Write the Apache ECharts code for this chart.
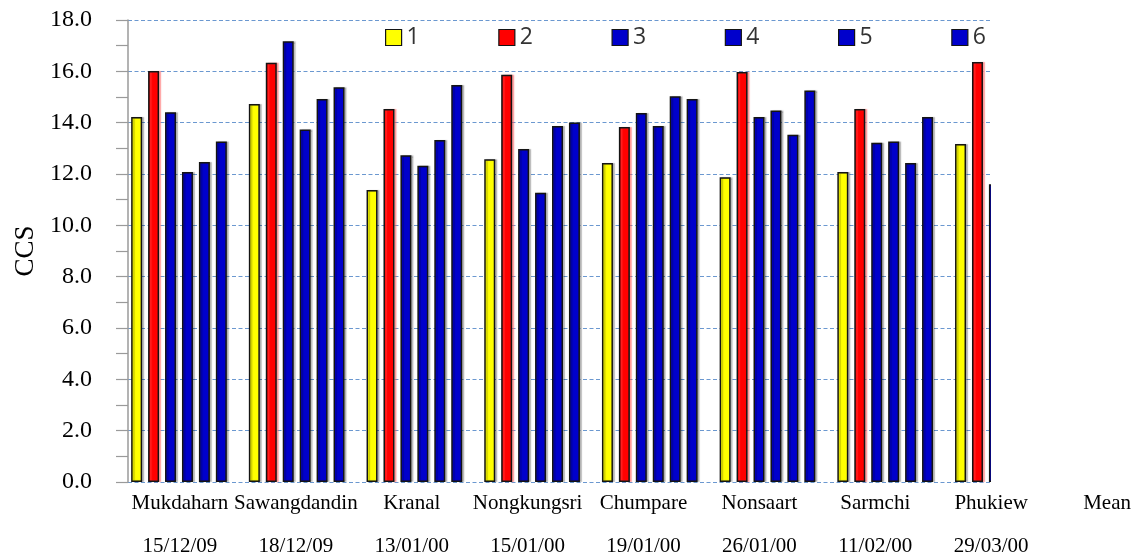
<!DOCTYPE html>
<html>
<head>
<meta charset="utf-8">
<script src="https://cdn.jsdelivr.net/npm/echarts@6/dist/echarts.min.js"></script>
<style>
  html, body { margin: 0; padding: 0; background: #ffffff; }
  #chart { width: 1135px; height: 560px; }
</style>
</head>
<body>
<div id="chart"></div>
<script>
// Sites and sampling dates along the x axis
const sites = ['Mukdaharn', 'Sawangdandin', 'Kranal', 'Nongkungsri', 'Chumpare', 'Nonsaart', 'Sarmchi', 'Phukiew', 'Mean'];
const dates = ['15/12/09', '18/12/09', '13/01/00', '15/01/00', '19/01/00', '26/01/00', '11/02/00', '29/03/00', ''];

// CCS per site for samples 1..6
const ccs1 = [14.22, 14.73, 11.38, 12.57, 12.43, 11.87, 12.08, 13.17];
const ccs2 = [16.01, 16.33, 14.53, 15.87, 13.83, 15.97, 14.53, 16.36];
const ccs3 = [14.41, 17.17, 12.73, 12.97, 14.38, 14.22, 13.22, 11.60];
const ccs4 = [12.08, 13.73, 12.32, 11.27, 13.87, 14.47, 13.27, null];
const ccs5 = [12.47, 14.92, 13.32, 13.87, 15.03, 13.53, 12.43, null];
const ccs6 = [13.27, 15.38, 15.47, 14.01, 14.92, 15.25, 14.22, null];

const seriesNames = ['1', '2', '3', '4', '5', '6'];
const seriesValues = [ccs1, ccs2, ccs3, ccs4, ccs5, ccs6];
const seriesColors = ['#FFFF00', '#FF0000', '#0000CC', '#0000CC', '#0000CC', '#0000CC'];

const yTicks = { min: 0, max: 18, interval: 2 };

const chart = echarts.init(document.getElementById('chart'), null, { renderer: 'canvas' });

const serif = 'Liberation Serif, Times New Roman, serif';

// plot area box (px)
const plot = { left: 128, top: 20, width: 863, height: 462 };

const series = seriesNames.map((name, k) => ({
  name: name,
  type: 'bar',
  xAxisIndex: 0,
  yAxisIndex: 0,
  barWidth: 11,
  barGap: '54%',
  data: seriesValues[k].map((v, i) => [i, v]),
  itemStyle: {
    color: seriesColors[k],
    borderColor: '#141414',
    borderWidth: 1.5,
    shadowColor: k === 1 ? 'rgba(255,80,80,0.45)' : 'rgba(0,0,0,0.22)',
    shadowOffsetX: 2,
    shadowBlur: 1
  },
  emphasis: { disabled: true },
  animation: false
}));

chart.setOption({
  animation: false,
  backgroundColor: '#ffffff',
  legend: {
    data: seriesNames,
    z: 200,
    left: 385,
    top: 26,
    padding: 0,
    itemWidth: 16,
    itemHeight: 16,
    itemGap: 78.5,
    icon: 'rect',
    textStyle: { fontFamily: 'Open Sans, Lato, sans-serif', fontSize: 23, color: '#333' },
    itemStyle: { borderColor: '#141414', borderWidth: 1.2 }
  },
  grid: [
    // plotting area for the bars
    Object.assign({ outerBoundsMode: 'none', containLabel: false }, plot),
    // band used only to place the site / date labels
    { left: 122, top: 20, width: 1043, height: 462, outerBoundsMode: 'none', containLabel: false }
  ],
  xAxis: [
    {
      gridIndex: 0,
      type: 'value',
      min: -0.4333,
      max: 6.899,
      show: false
    },
    {
      gridIndex: 1,
      type: 'category',
      data: sites,
      boundaryGap: true,
      axisLine: { show: false },
      axisTick: { show: false },
      splitLine: { show: false },
      axisLabel: {
        interval: 0,
        margin: 0,
        formatter: (v, i) => '{a|' + v + '}\n{b|' + (dates[i] || ' ') + '}',
        rich: {
          a: { fontFamily: serif, fontSize: 21, color: '#000', lineHeight: 43 },
          b: { fontFamily: serif, fontSize: 21, color: '#000', lineHeight: 43 }
        }
      }
    }
  ],
  yAxis: [
    {
      gridIndex: 0,
      type: 'value',
      min: yTicks.min,
      max: yTicks.max,
      interval: yTicks.interval,
      name: 'CCS',
      nameLocation: 'middle',
      nameRotate: 90,
      nameGap: 89,
      nameTextStyle: { fontFamily: serif, fontSize: 27, color: '#000' },
      axisLine: { show: true, onZero: false, lineStyle: { color: '#9a9a9a', width: 1.5 } },
      axisTick: { show: true, length: 12, lineStyle: { color: '#9a9a9a', width: 1.2 } },
      minorTick: { show: true, splitNumber: 2, length: 12, lineStyle: { color: '#9a9a9a', width: 1.2 } },
      minorSplitLine: { show: false },
      axisLabel: {
        margin: 36,
        fontFamily: serif,
        fontSize: 24,
        color: '#000',
        formatter: v => v.toFixed(1)
      },
      splitLine: {
        show: true,
        lineStyle: { color: '#6b98d0', width: 1, type: [4, 2.5] }
      }
    },
    {
      gridIndex: 1,
      type: 'value',
      show: false
    }
  ],
  // the plot is cut off at its right edge: mask whatever lies past it
  graphic: [
    {
      type: 'rect',
      z: 100,
      silent: true,
      shape: {
        x: plot.left + plot.width,
        y: 0,
        width: 1135 - (plot.left + plot.width),
        height: plot.top + plot.height + 2
      },
      style: { fill: '#ffffff' }
    }
  ],
  series: series
});
</script>
</body>
</html>
